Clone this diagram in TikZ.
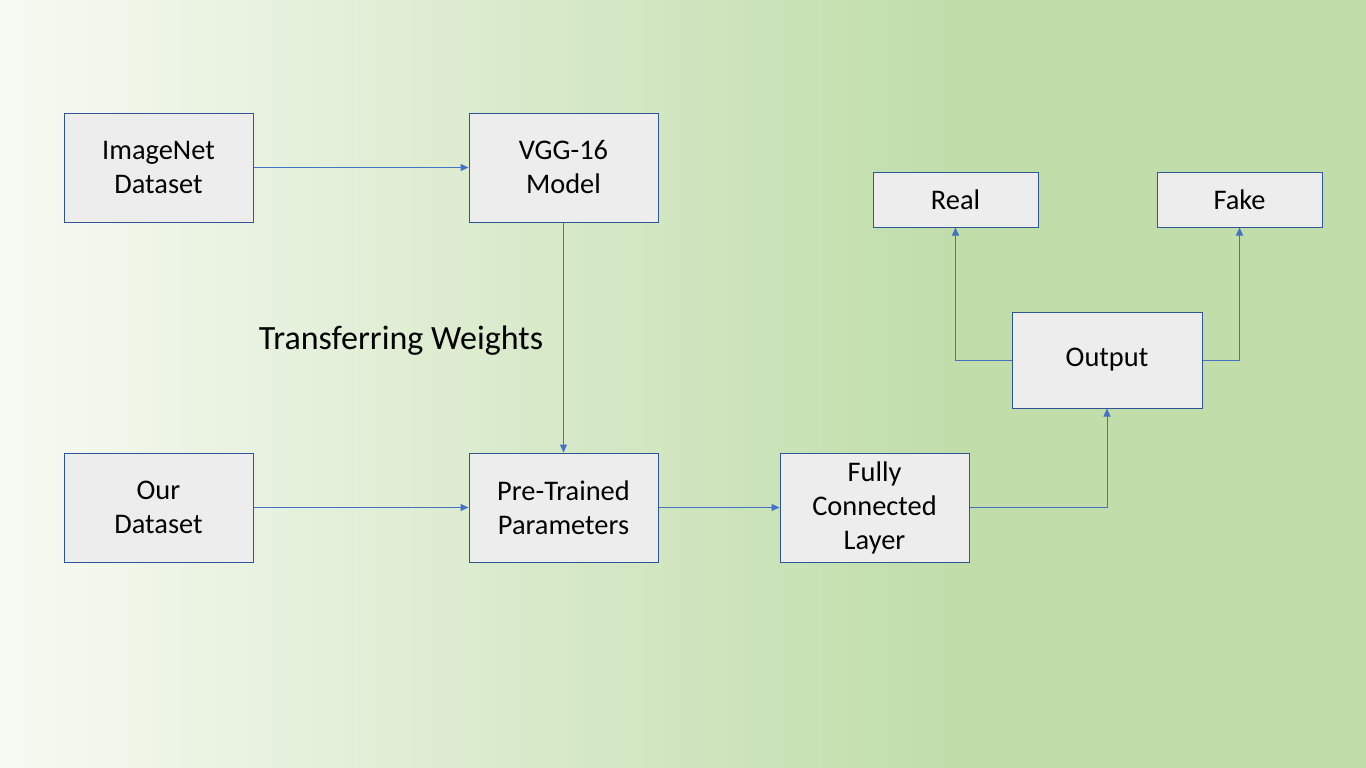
\documentclass[tikz,border=0pt]{standalone}
\usepackage{fontspec}
\setmainfont{Carlito}
\usetikzlibrary{arrows.meta}
\definecolor{bgL}{HTML}{F7FAF3}
\definecolor{bgR}{HTML}{C0DDAA}
\definecolor{boxfill}{HTML}{EDEDED}
\definecolor{boxline}{HTML}{2F5597}
\definecolor{conn}{HTML}{4472C4}
\tikzset{
  blk/.style={draw=boxline, fill=boxfill, line width=1pt, align=center, inner sep=0pt,
    font=\fontsize{28.4}{34}\selectfont, text=black},
  conx/.style={draw=conn, line width=1pt, -{Triangle[length=8pt,width=7pt]}},
}
\begin{document}
\begin{tikzpicture}[x=1pt,y=-1pt]
\useasboundingbox (0,0) rectangle (1366,768);
\shade[left color=bgL, right color=bgR] (0,0) rectangle (960,768);
\fill[bgR] (959,0) rectangle (1366,768);
\node[blk, minimum width=189pt, minimum height=109pt] (imgnet) at (158.5,167.5) {ImageNet\\Dataset};
\node[blk, minimum width=189pt, minimum height=109pt] (vgg) at (563.5,167.5) {VGG-16\\Model};
\node[blk, minimum width=189pt, minimum height=109pt] (our) at (158.5,507.5) {Our\\Dataset};
\node[blk, minimum width=189pt, minimum height=109pt] (pre) at (563.5,507.5) {Pre-Trained\\Parameters};
\node[blk, minimum width=189pt, minimum height=109pt] (fc) at (874.5,507.5) {Fully\\Connected\\Layer};
\node[blk, minimum width=190pt, minimum height=96pt] (out) at (1107,360) {Output};
\node[blk, minimum width=165pt, minimum height=55pt] (real) at (955.5,199.5) {Real};
\node[blk, minimum width=165pt, minimum height=55pt] (fake) at (1239.5,199.5) {Fake};
\node[font=\fontsize{34}{40}\selectfont, text=black] (tw) at (401,341) {Transferring Weights};
\draw[conx] (imgnet) -- (vgg);
\draw[conx] (vgg) -- (pre);
\draw[conx] (our) -- (pre);
\draw[conx] (pre) -- (fc);
\draw[conx] (fc.east) -| (out.south);
\draw[conx] (out.west) -| (real.south);
\draw[conx] (out.east) -| (fake.south);
\end{tikzpicture}
\end{document}
